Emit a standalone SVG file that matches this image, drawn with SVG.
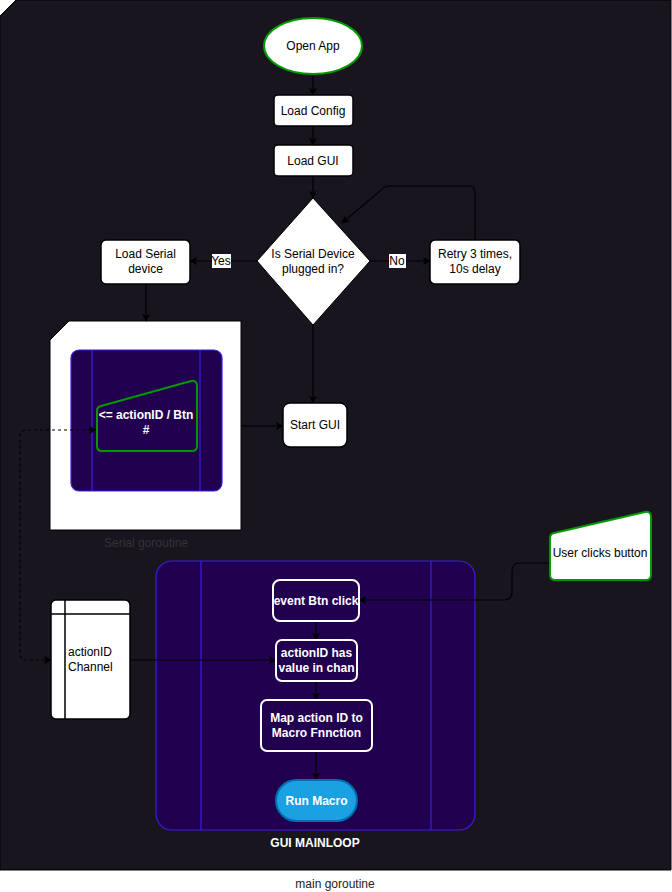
<svg xmlns="http://www.w3.org/2000/svg" width="672" height="892" viewBox="0 0 672 892">
<style>
text{font-family:"Liberation Sans",Arial,sans-serif;font-size:12px;text-anchor:middle;dominant-baseline:central}
.box{fill:#fff;stroke:#000;stroke-width:1.5}
.lbl{fill:#000}
.w{fill:#fff;font-weight:bold}
.in{fill:#220050;stroke:#fff;stroke-width:2}
.pc{fill:#220050;stroke:#3a1fe0;stroke-width:1.2}
.ln{stroke:#3a1fe0;stroke-width:1.2}
.c{fill:none;stroke:#000;stroke-width:1.2}
</style>
<defs>
<marker id="a" viewBox="0 0 10 10" refX="9" refY="5" markerWidth="8" markerHeight="8" orient="auto" markerUnits="userSpaceOnUse">
<path d="M0,0 L10,5 L0,10 L2.5,5 z" fill="#000"/>
</marker>
<marker id="as" viewBox="0 0 10 10" refX="9" refY="5" markerWidth="8" markerHeight="8" orient="auto-start-reverse" markerUnits="userSpaceOnUse">
<path d="M0,0 L10,5 L0,10 L2.5,5 z" fill="#000"/>
</marker>
</defs>
<g id="main-goroutine">
<path d="M16,0 L671,0 L671,870 L0,870 L0,16 Z" fill="#18151e" stroke="#000" stroke-width="1"/>
<text x="335" y="884" fill="#222" font-size="11">main goroutine</text>
</g>
<g id="serial-goroutine">
<path d="M69,321 L241,321 L241,530 L50,530 L50,340 Z" fill="#fff" stroke="#000" stroke-width="1"/>
<rect x="71" y="350" width="151" height="141" rx="8" class="pc"/>
<line x1="92" y1="350" x2="92" y2="491" class="ln"/>
<line x1="200" y1="350" x2="200" y2="491" class="ln"/>
<text x="146" y="543" fill="#333" font-size="11">Serial goroutine</text>
</g>
<g id="gui-mainloop">
<rect x="156" y="561" width="319" height="269" rx="16" class="pc"/>
<line x1="201" y1="561" x2="201" y2="830" class="ln"/>
<line x1="431" y1="561" x2="431" y2="830" class="ln"/>
<text x="315" y="843" class="w">GUI MAINLOOP</text>
</g>
<g id="connectors">
<line x1="313" y1="74" x2="313" y2="95" class="c" marker-end="url(#a)"/>
<line x1="313" y1="126" x2="313" y2="145" class="c" marker-end="url(#a)"/>
<line x1="313" y1="176" x2="313" y2="198" class="c" marker-end="url(#a)"/>
<line x1="257" y1="261" x2="190" y2="261" class="c" marker-end="url(#a)"/>
<line x1="370" y1="261" x2="430" y2="261" class="c" marker-end="url(#a)"/>
<path d="M475,240 L475,192 Q475,186 469,186 L390,186 Q384,186 380,191 L342,223" class="c" marker-end="url(#a)"/>
<line x1="146" y1="284" x2="146" y2="321" class="c" marker-end="url(#a)"/>
<line x1="313" y1="325" x2="313" y2="403" class="c" marker-end="url(#a)"/>
<line x1="241" y1="426" x2="283" y2="426" class="c" marker-end="url(#a)"/>
<path d="M51,660 L26,660 Q20,660 20,654 L20,436 Q20,430 26,430 L96,430" class="c" stroke-dasharray="3,3" marker-start="url(#as)" marker-end="url(#a)"/>
<line x1="130" y1="660" x2="276" y2="660" class="c" marker-end="url(#a)"/>
<path d="M550,563 L520,563 Q512,563 512,571 L512,592 Q512,600 504,600 L359,600" class="c" marker-end="url(#a)"/>
<line x1="316" y1="621" x2="316" y2="640" class="c" marker-end="url(#a)"/>
<line x1="316" y1="681" x2="316" y2="700" class="c" marker-end="url(#a)"/>
<line x1="316" y1="751" x2="316" y2="780" class="c" marker-end="url(#a)"/>
<rect x="212" y="254" width="19" height="14" fill="#fff"/>
<text x="221" y="261" class="lbl" font-size="11">Yes</text>
<rect x="389" y="254" width="17" height="14" fill="#fff"/>
<text x="397" y="261" class="lbl" font-size="11">No</text>
</g>
<g id="open-app">
<ellipse cx="313" cy="46" rx="49" ry="28" fill="#fff" stroke="#009900" stroke-width="2"/>
<text x="313" y="46" class="lbl">Open App</text>
</g>
<g id="load-config">
<rect x="274" y="95" width="79" height="31" rx="4" class="box"/>
<text x="313" y="110.5" class="lbl">Load Config</text>
</g>
<g id="load-gui">
<rect x="274" y="145" width="79" height="31" rx="4" class="box"/>
<text x="313" y="160.5" class="lbl">Load GUI</text>
</g>
<g id="decision">
<path d="M313,198 L370,261 L313,325 L257,261 Z" fill="#fff" stroke="#000" stroke-width="1"/>
<text x="313" y="254" class="lbl">Is Serial Device</text>
<text x="313" y="269" class="lbl">plugged in?</text>
</g>
<g id="load-serial">
<rect x="101" y="240" width="89" height="44" rx="5" class="box"/>
<text x="145.5" y="254" class="lbl">Load Serial</text>
<text x="145.5" y="269" class="lbl">device</text>
</g>
<g id="retry">
<rect x="430" y="240" width="90" height="44" rx="5" class="box"/>
<text x="475" y="254" class="lbl">Retry 3 times,</text>
<text x="475" y="269" class="lbl">10s delay</text>
</g>
<g id="action-input">
<path d="M101,406 L191,381 Q197,380 197,386 L197,446 Q197,451 192,451 L102,451 Q97,451 97,446 L97,411 Q97,407 101,406 Z" fill="none" stroke="#009900" stroke-width="2"/>
<text x="146" y="415" class="w">&lt;= actionID / Btn</text>
<text x="146" y="430" class="w">#</text>
</g>
<g id="start-gui">
<rect x="283" y="403" width="64" height="44" rx="7" class="box"/>
<text x="315" y="425" class="lbl">Start GUI</text>
</g>
<g id="user-clicks">
<path d="M554,533 L645,512 Q651,511 651,517 L651,575 Q651,580 646,580 L555,580 Q550,580 550,575 L550,538 Q550,534 554,533 Z" fill="#fff" stroke="#009900" stroke-width="2"/>
<text x="600" y="553" class="lbl">User clicks button</text>
</g>
<g id="action-channel">
<rect x="51" y="600" width="79" height="119" rx="5" class="box"/>
<line x1="51" y1="614" x2="130" y2="614" stroke="#000" stroke-width="1.5"/>
<line x1="65" y1="600" x2="65" y2="719" stroke="#000" stroke-width="1.5"/>
<text x="68" y="652" class="lbl" style="text-anchor:start">actionID</text>
<text x="68" y="667" class="lbl" style="text-anchor:start">Channel</text>
</g>
<g id="event-btn">
<rect x="273" y="580" width="86" height="41" rx="7" class="in"/>
<text x="316" y="600.5" class="w">event Btn click</text>
</g>
<g id="action-has-value">
<rect x="276" y="640" width="81" height="41" rx="6" class="in"/>
<text x="316.5" y="653" class="w">actionID has</text>
<text x="316.5" y="668" class="w">value in chan</text>
</g>
<g id="map-action">
<rect x="261" y="700" width="111" height="51" rx="6" class="in"/>
<text x="316.5" y="718" class="w">Map action ID to</text>
<text x="316.5" y="733" class="w">Macro Fnnction</text>
</g>
<g id="run-macro">
<rect x="276" y="780" width="81" height="41" rx="20.5" fill="#1ba1e2" stroke="#006eaf" stroke-width="2"/>
<text x="316.5" y="800.5" class="w">Run Macro</text>
</g>
</svg>
